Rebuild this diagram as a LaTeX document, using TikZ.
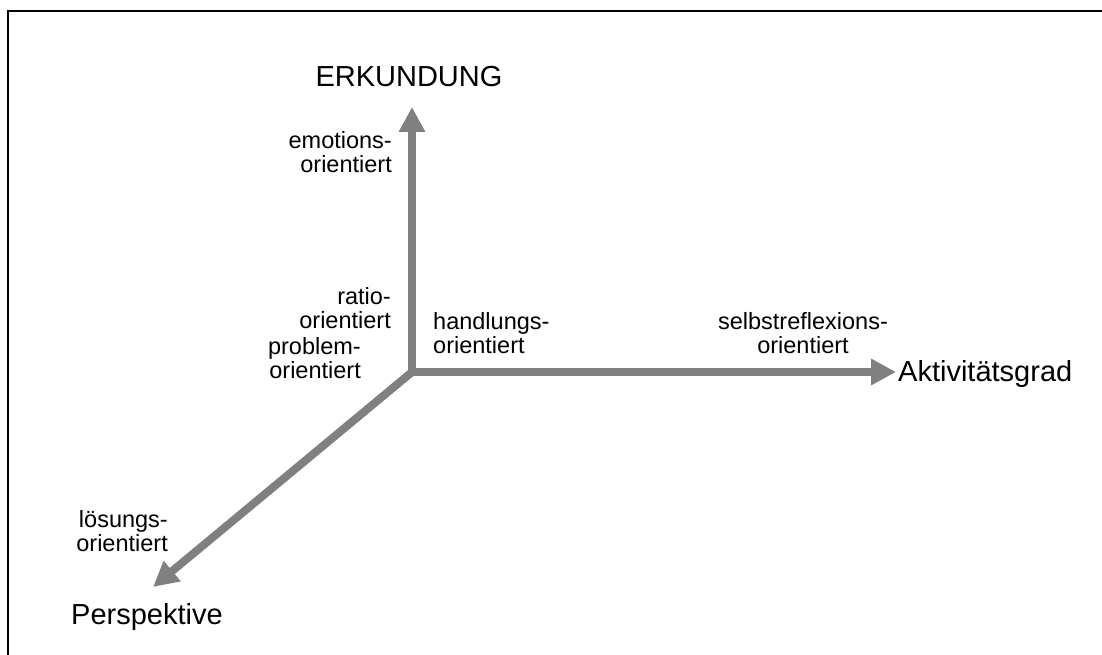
\documentclass[tikz,border=0pt]{standalone}
\usepackage{fontspec}
\setmainfont{Liberation Sans}
\usetikzlibrary{arrows.meta}
\definecolor{axisgray}{HTML}{808080}
\begin{document}
\begin{tikzpicture}[x=1pt,y=-1pt,
  axis/.style={draw=axisgray, line width=8pt, -{Triangle[width=25pt,length=25pt]}},
  lbl/.style={font=\fontsize{23.5}{24.5}\selectfont, inner sep=0pt},
  big/.style={font=\fontsize{29}{34}\selectfont, inner sep=0pt}]
\useasboundingbox (0,0) rectangle (1102,655);
\draw[line width=2pt] (8,655) -- (8,11) -- (1102,11);
\coordinate (O) at (412,372);
\coordinate (up) at (412,107);
\coordinate (right) at (896,372);
\coordinate (dl) at (153,587);
\draw[axis] (O) -- (up);
\draw[axis] (O) -- (right);
\draw[axis, shorten <=-4pt] (O) -- (dl);
\node[big, anchor=center] (erk) at (409,77) {ERKUNDUNG};
\node[big, anchor=west] (akt) at (898,374) {Aktivitätsgrad};
\node[big, anchor=west] (per) at (71,617) {Perspektive};
\node[lbl, align=right, anchor=east] (emo) at (392,152) {emotions-\\orientiert};
\node[lbl, align=right, anchor=east] (rat) at (391,308) {ratio-\\orientiert};
\node[lbl, align=right, anchor=east] (pro) at (361,358) {problem-\\orientiert};
\node[lbl, align=left, anchor=west] (han) at (433,333) {handlungs-\\orientiert};
\node[lbl, align=center, anchor=center] (sel) at (803,333) {selbstreflexions-\\orientiert};
\node[lbl, align=right, anchor=east] (loe) at (168,531) {lösungs-\\orientiert};
\end{tikzpicture}
\end{document}
